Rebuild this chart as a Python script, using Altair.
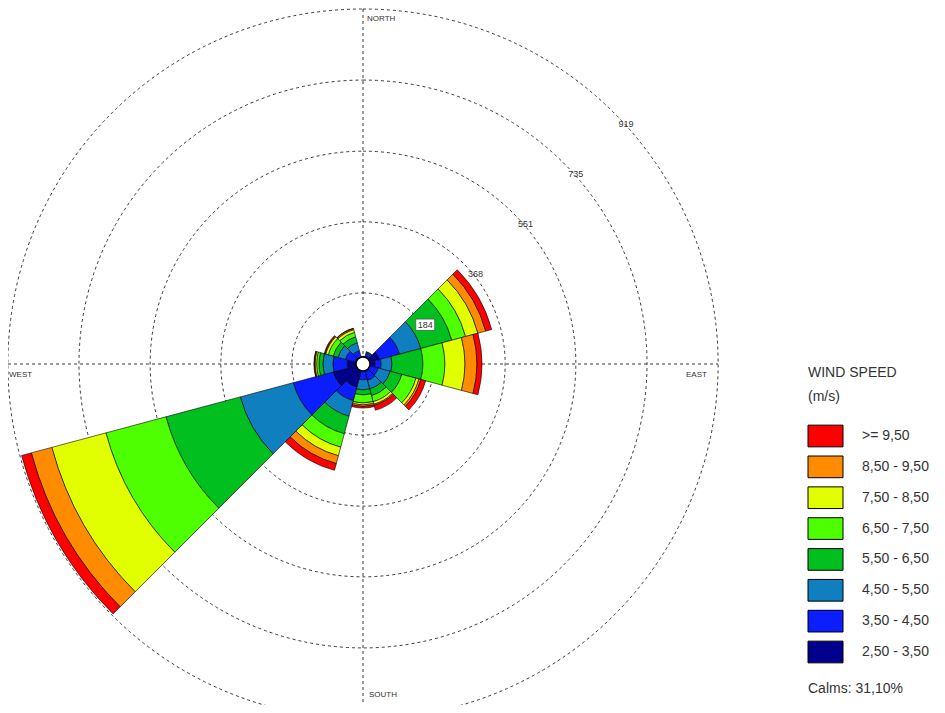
import math
import altair as alt
import pandas as pd

# ---------------- data ----------------
directions = [0, 30, 60, 90, 120, 150, 180, 210, 240, 270, 300, 330]
speed_classes = ["2,50 - 3,50", "3,50 - 4,50", "4,50 - 5,50", "5,50 - 6,50",
                 "6,50 - 7,50", "7,50 - 8,50", "8,50 - 9,50", ">= 9,50"]
colors = ["#00008C", "#0A1EFF", "#0F7FC0", "#00BF1E",
          "#4DFF00", "#E1FF00", "#FF8C00", "#FF0000"]

# counts per direction (N, 30, 60, ... 330) for each speed class
s_2_5 = [10, 21, 44, 31, 18, 21, 16, 62, 80, 41, 21, 16]
s_3_5 = [6, 8, 54, 16, 23, 23, 25, 36, 107, 37, 26, 20]
s_4_5 = [3, 3, 57, 28, 32, 23, 26, 42, 142, 26, 20, 21]
s_5_5 = [1, 1, 83, 80, 31, 18, 13, 47, 199, 10, 13, 16]
s_6_5 = [0, 0, 37, 57, 38, 16, 21, 36, 161, 6, 13, 12]
s_7_5 = [0, 0, 33, 52, 8, 7, 5, 23, 145, 4, 7, 7]
s_8_5 = [0, 0, 21, 31, 5, 3, 4, 21, 55, 2, 2, 3]
s_9_5 = [0, 0, 16, 13, 13, 13, 4, 18, 26, 1, 2, 1]
series = [s_2_5, s_3_5, s_4_5, s_5_5, s_6_5, s_7_5, s_8_5, s_9_5]

ring_values = [184, 368, 551, 735, 919]
compass_labels = ["NORTH", "EAST", "SOUTH", "WEST"]
legend_title = ["WIND SPEED", "(m/s)"]
calms_text = "Calms: 31,10%"
sector_width = 30

# ---------------- layout constants ----------------
W, H = 929, 697
CX, CY = 355, 356          # centre of the rose inside the plot area
R = 355                    # pixel radius of the outer ring
RMAX = 919

# ---------------- tables ----------------
rows = []
for i, d in enumerate(directions):
    cum = 0
    for k, sp in enumerate(speed_classes):
        v = series[k][i]
        if v > 0:
            rows.append({"dir": d, "speed": sp, "t0": d - sector_width / 2,
                         "t1": d + sector_width / 2, "r0": cum, "r1": cum + v})
        cum += v
df = pd.DataFrame(rows)
df_rings = pd.DataFrame({"ring": ring_values})
legend_order = list(reversed(speed_classes))
df_leg = pd.DataFrame({"speed": legend_order})

theta_scale = alt.Scale(domain=[0, 360], range=[0, 2 * math.pi])
r_scale = alt.Scale(type="linear", domain=[0, RMAX], range=[0, R], zero=True)
color_scale = alt.Scale(domain=speed_classes, range=colors)

FONT = "Liberation Sans"
TXT = "#333333"

# ---------------- layers ----------------
rings = alt.Chart(df_rings).mark_arc(
    fillOpacity=0, stroke="#222222", strokeWidth=0.9, strokeDash=[3, 3]
).encode(
    x=alt.value(CX), y=alt.value(CY),
    theta=alt.value(0), theta2=alt.value(2 * math.pi),
    radius=alt.Radius("ring:Q", scale=r_scale, stack=None),
)

vline = alt.Chart(df_rings.head(1)).mark_rule(
    color="#222222", strokeWidth=0.9, strokeDash=[3, 3]
).encode(x=alt.value(CX), y=alt.value(CY - R), y2=alt.value(CY + R))
hline = alt.Chart(df_rings.head(1)).mark_rule(
    color="#222222", strokeWidth=0.9, strokeDash=[3, 3]
).encode(x=alt.value(CX - R), x2=alt.value(CX + R), y=alt.value(CY))

sectors = alt.Chart(df).mark_arc(stroke="black", strokeWidth=0.6).encode(
    x=alt.value(CX), y=alt.value(CY),
    theta=alt.Theta("t0:Q", scale=theta_scale, stack=None),
    theta2="t1:Q",
    radius=alt.Radius("r0:Q", scale=r_scale, stack=None),
    radius2="r1:Q",
    color=alt.Color("speed:N", scale=color_scale, legend=None),
)

calm = alt.Chart(df_rings.head(1)).mark_arc(
    fill="white", stroke="black", strokeWidth=1.5
).encode(
    x=alt.value(CX), y=alt.value(CY),
    theta=alt.value(0), theta2=alt.value(2 * math.pi),
    radius=alt.value(7),
)

# white box behind the first ring label
r184 = ring_values[0] * R / RMAX
box = alt.Chart(df_rings.head(1)).mark_point(
    shape="M-1,-0.6H1V0.6H-1Z", size=360, filled=True, fill="white",
    stroke="#555555", strokeWidth=0.8, opacity=1
).encode(
    x=alt.value(CX + r184 * math.sin(math.pi / 4) + 12),
    y=alt.value(CY - r184 * math.cos(math.pi / 4) + 11),
)

ring_text = alt.Chart(df_rings).mark_text(
    font=FONT, fontSize=9, color=TXT, dx=12, dy=11
).encode(
    x=alt.value(CX), y=alt.value(CY),
    theta=alt.value(math.pi / 4),
    radius=alt.Radius("ring:Q", scale=r_scale, stack=None),
    text="ring:Q",
)

comp_df = pd.DataFrame({
    "label": compass_labels,
    "px": [CX + 4, CX + 323, CX + 6, 1],
    "py": [CY - 345, CY + 11, CY + 331, CY + 11],
})
compass = alt.Chart(comp_df).mark_text(
    font=FONT, fontSize=8, color=TXT, align="left", baseline="middle"
).encode(
    x=alt.X("px:Q", scale=None), y=alt.Y("py:Q", scale=None), text="label:N"
)

leg_y = alt.Y("speed:N", scale=alt.Scale(type="point", domain=legend_order,
                                          range=[428, 644], padding=0), axis=None)
swatches = alt.Chart(df_leg).mark_point(
    shape="M-1,-0.62H1V0.62H-1Z", size=1225, filled=True,
    stroke="black", strokeWidth=1, opacity=1
).encode(
    x=alt.value(817.5), y=leg_y,
    color=alt.Color("speed:N", scale=color_scale, legend=None),
)
leg_labels = alt.Chart(df_leg).mark_text(
    font=FONT, fontSize=14, color=TXT, align="left", baseline="middle"
).encode(x=alt.value(854), y=leg_y, text="speed:N")

title_df = pd.DataFrame({"t": legend_title + [calms_text],
                         "py": [365, 389, 681]})
leg_title = alt.Chart(title_df).mark_text(
    font=FONT, fontSize=14, color=TXT, align="left", baseline="middle"
).encode(x=alt.value(800), y=alt.Y("py:Q", scale=None), text="t:N")

chart = alt.layer(
    rings, vline, hline, sectors, calm, box, ring_text, compass,
    swatches, leg_labels, leg_title
).properties(
    width=W, height=H, padding=0, autosize=alt.AutoSizeParams(type="none")
).configure_view(stroke=None)

chart.save("out.html", embed_options={"renderer": "svg", "actions": False})
